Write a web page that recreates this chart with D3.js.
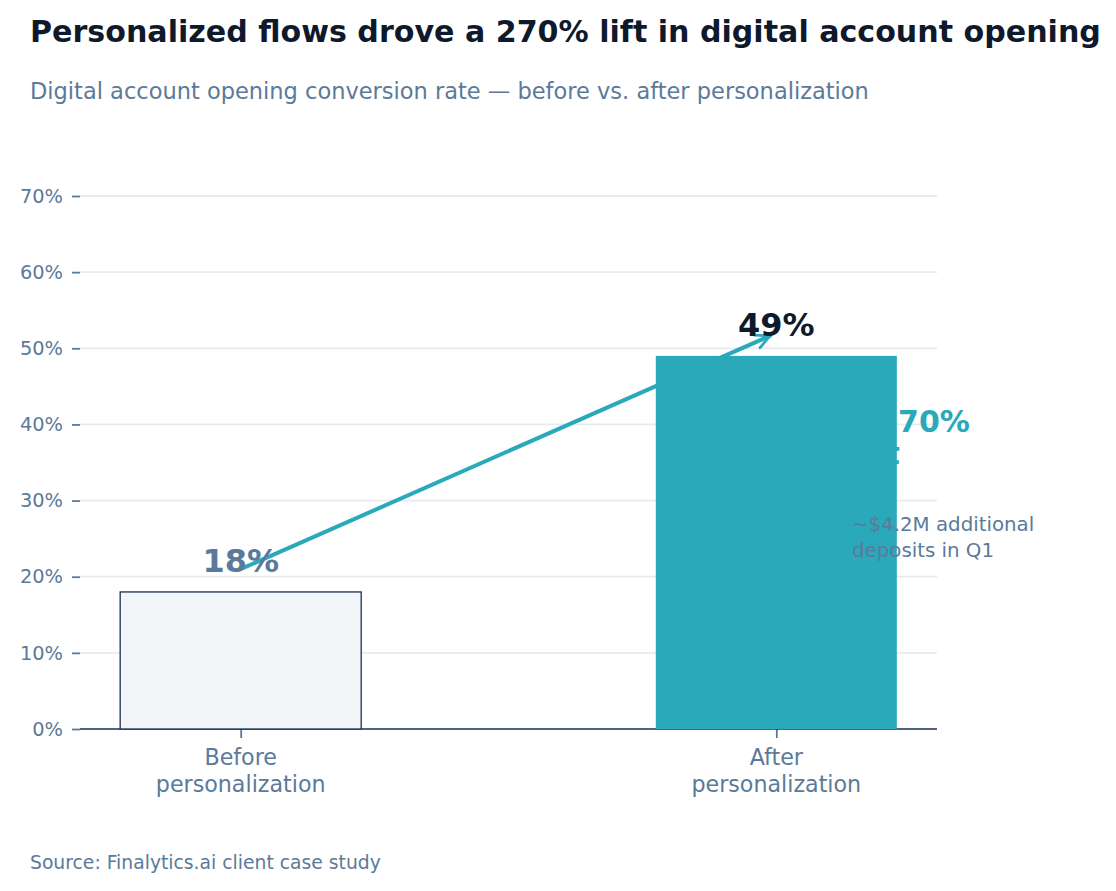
<!DOCTYPE html>
<html lang="en">
<head>
  <meta charset="UTF-8">
  <title>Digital account opening conversion</title>
  <script src="https://d3js.org/d3.v7.min.js"></script>
  <style>
    body {
      margin: 0;
      background: #ffffff;
      font-family: "DejaVu Sans", sans-serif;
    }
  </style>
</head>
<body>
  <div id="chart"></div>

  <script>
    // data
    const categories = ["Before personalization", "After personalization"];
    const categoryLines = [["Before", "personalization"], ["After", "personalization"]];
    const rates = [0.18, 0.49];
    const yTicks = [0, 0.1, 0.2, 0.3, 0.4, 0.5, 0.6, 0.7];
    const arrowFrom = [0.21, 0.52];   // [before, after] y values of the arrow ends
    const liftLines = ["+270%", "lift"];
    const noteLines = ["~$4.2M additional", "deposits in Q1"];

    const W = 1116, H = 891;
    const plot = {left: 80, right: 937, top: 196, bottom: 729};

    const teal = "#2aa9ba",
          navy = "#1b2f52",
          ink = "#0e1a2c",
          slate = "#5b7a99",
          grid = "#e6ebf3";

    const svg = d3.select("#chart")
                  .append("svg")
                  .attr("width", W)
                  .attr("height", H)
                  .style("font-family", "'DejaVu Sans', sans-serif");

    const x = d3.scalePoint()
                .domain(categories)
                .range([plot.left, plot.right])
                .padding(0.3);

    const y = d3.scaleLinear()
                .domain([0, 0.7])
                .range([plot.bottom, plot.top]);

    const barW = x.step() * 0.45;

    // title + subtitle
    svg.append("text")
       .attr("x", 30).attr("y", 42)
       .attr("fill", ink)
       .style("font-size", "30.1px")
       .style("font-weight", "bold")
       .text("Personalized flows drove a 270% lift in digital account opening");

    svg.append("text")
       .attr("x", 30).attr("y", 99)
       .attr("fill", slate)
       .style("font-size", "22.5px")
       .text("Digital account opening conversion rate \u2014 before vs. after personalization");

    // grid
    svg.append("g")
       .selectAll("line")
       .data(yTicks.filter(d => d > 0))
       .enter()
       .append("line")
       .attr("x1", plot.left).attr("x2", plot.right)
       .attr("y1", d => y(d)).attr("y2", d => y(d))
       .attr("stroke", grid)
       .attr("stroke-width", 1.8);

    // y axis
    const yAxis = svg.append("g")
       .attr("transform", `translate(${plot.left},0)`)
       .call(d3.axisLeft(y).tickValues(yTicks).tickFormat(d3.format(".0%")).tickSize(8).tickPadding(9));
    yAxis.select(".domain").remove();
    yAxis.selectAll(".tick line").attr("stroke", slate).attr("stroke-width", 1.8);
    yAxis.selectAll(".tick text")
         .attr("fill", slate)
         .style("font-size", "19.4px")
         .style("font-family", "'DejaVu Sans', sans-serif");

    // x axis
    const xAxis = svg.append("g")
       .attr("transform", `translate(0,${plot.bottom})`)
       .call(d3.axisBottom(x).tickSize(9).tickFormat(""));
    xAxis.select(".domain").remove();
    xAxis.selectAll(".tick line").attr("stroke", slate).attr("stroke-width", 1.8);

    svg.append("line")
       .attr("x1", plot.left).attr("x2", plot.right)
       .attr("y1", plot.bottom).attr("y2", plot.bottom)
       .attr("stroke", navy)
       .attr("stroke-width", 1.3);

    svg.append("g")
       .selectAll("text")
       .data(categories)
       .enter()
       .append("text")
       .attr("text-anchor", "middle")
       .attr("fill", slate)
       .style("font-size", "22.2px")
       .each(function(d, i) {
         d3.select(this).selectAll("tspan")
           .data(categoryLines[i])
           .enter()
           .append("tspan")
           .attr("x", x(d))
           .attr("y", (t, j) => plot.bottom + 36 + j * 26.5)
           .text(t => t);
       });

    // before bar
    svg.append("rect")
       .attr("x", x(categories[0]) - barW / 2)
       .attr("y", y(rates[0]))
       .attr("width", barW)
       .attr("height", y(0) - y(rates[0]))
       .attr("fill", "#f3f6f9")
       .attr("stroke", navy)
       .attr("stroke-width", 1.3);

    // lift annotation (sits behind the after bar)
    svg.append("text")
       .attr("fill", teal)
       .style("font-weight", "bold")
       .style("font-size", "30px")
       .selectAll("tspan")
       .data(liftLines)
       .enter()
       .append("tspan")
       .attr("x", 852)
       .attr("y", (d, i) => 432 + i * 32)
       .text(d => d);

    // arrow before -> after
    svg.append("defs")
       .append("marker")
       .attr("id", "head")
       .attr("viewBox", "0 0 12 12")
       .attr("refX", 11).attr("refY", 6)
       .attr("markerWidth", 4.2).attr("markerHeight", 4.2)
       .attr("markerUnits", "strokeWidth")
       .attr("orient", "auto")
       .append("path")
       .attr("d", "M1,1 L11,6 L1,11")
       .attr("fill", "none")
       .attr("stroke", teal)
       .attr("stroke-width", 2)
       .attr("stroke-linecap", "round")
       .attr("stroke-linejoin", "round");

    const x0 = x(categories[0]), y0 = y(arrowFrom[0]),
          x1 = x(categories[1]), y1 = y(arrowFrom[1]);
    const len = Math.hypot(x1 - x0, y1 - y0),
          ux = (x1 - x0) / len, uy = (y1 - y0) / len,
          shrink = 3;
    svg.append("line")
       .attr("x1", x0 + ux * shrink).attr("y1", y0 + uy * shrink)
       .attr("x2", x1 - ux * (shrink + 4)).attr("y2", y1 - uy * (shrink + 4))
       .attr("stroke", teal)
       .attr("stroke-width", 4)
       .attr("stroke-linecap", "round")
       .attr("marker-end", "url(#head)");

    // after bar
    svg.append("rect")
       .attr("x", x(categories[1]) - barW / 2)
       .attr("y", y(rates[1]))
       .attr("width", barW)
       .attr("height", y(0) - y(rates[1]))
       .attr("fill", teal);

    // value labels
    svg.append("g")
       .selectAll("text")
       .data(rates)
       .enter()
       .append("text")
       .attr("x", (d, i) => x(categories[i]))
       .attr("y", d => y(d + 0.025) - 0.5)
       .attr("text-anchor", "middle")
       .attr("fill", (d, i) => i === 0 ? slate : ink)
       .style("font-size", "32px")
       .style("font-weight", "bold")
       .text(d => d3.format(".0%")(d));

    // deposits note
    svg.append("text")
       .attr("fill", slate)
       .style("font-size", "19.8px")
       .selectAll("tspan")
       .data(noteLines)
       .enter()
       .append("tspan")
       .attr("x", 852)
       .attr("y", (d, i) => 531 + i * 26)
       .text(d => d);

    // source
    svg.append("text")
       .attr("x", 30).attr("y", 869)
       .attr("fill", slate)
       .style("font-size", "18.75px")
       .text("Source: Finalytics.ai client case study");
  </script>
</body>
</html>
